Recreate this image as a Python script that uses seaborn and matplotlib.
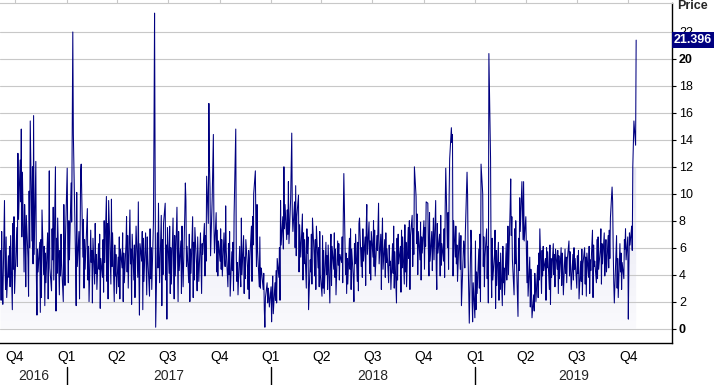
import numpy as np
import pandas as pd
import matplotlib
matplotlib.use("Agg")
import matplotlib.pyplot as plt
import matplotlib.dates as mdates
import matplotlib.transforms as mtransforms
from matplotlib.colors import LinearSegmentedColormap
from matplotlib.patches import PathPatch
import seaborn as sns

sns.set_style("white")
plt.rcParams["font.family"] = ["Liberation Sans", "DejaVu Sans"]

# Daily prices (business days)
v2016 = [
    5.8, 2.1, 7.2, 3.4, 1.8, 9.5, 4.6, 2.9, 6.8, 2.3, 5.4, 3.8, 6.1,
    3.1, 6.9, 1.4, 7.8, 4.4, 8.3, 2.6, 6.2, 7.5, 4.6, 13.0, 8.1, 12.5,
    9.4, 14.8, 6.8, 11.6, 4.2, 9.2, 7.5, 3.1, 8.4, 5.2, 2.4, 10.2, 6.0,
    15.4, 6.5, 12.0, 4.8, 15.8, 5.5, 12.4, 3.8, 1.0, 5.9, 4.2, 6.4, 1.2,
    6.6, 2.3, 8.8, 4.0, 6.1, 1.7, 5.6, 3.4, 7.1, 2.2, 6.2, 11.7, 4.5,
    2.8, 7.4, 5.1, 9.0, 3.6, 12.0, 1.3, 6.7, 4.1, 8.2, 2.5, 5.8, 3.9, 7.0,
    4.8, 2.0, 9.2, 5.4, 3.2, 6.9,
]
v2017 = [
    11.9, 6.2, 3.4, 8.0, 5.1, 10.8, 7.9, 14.8, 22.0, 14.4, 7.5, 4.9, 1.7,
    10.1, 4.6, 7.2, 2.2, 6.4, 11.7, 12.2, 5.3, 8.1, 3.0, 6.6, 4.4, 7.9,
    8.9, 3.6, 6.1, 2.0, 7.3, 4.9, 5.8, 1.9, 6.7, 3.3, 7.8, 4.1, 5.5,
    2.9, 6.3, 4.4, 7.0, 1.5, 5.2, 3.8, 6.6, 2.7, 8.0, 4.9, 9.8, 3.5,
    7.8, 2.2, 9.5, 5.0, 3.3, 9.6, 4.6, 7.1, 2.0, 6.2, 3.9, 5.5, 2.6,
    5.3, 3.1, 6.8, 2.2, 5.9, 4.5, 7.1, 2.0, 5.6, 3.4, 6.3, 8.3, 4.2,
    6.9, 3.0, 8.8, 4.8, 5.9, 1.8, 7.0, 3.6, 6.2, 2.3, 5.4, 7.6, 3.8,
    9.4, 4.2, 1.0, 6.3, 5.0, 7.2, 1.4, 6.7, 3.5, 7.1, 4.6, 2.5, 6.8,
    5.2, 2.4, 7.4, 3.7, 6.0, 2.9, 7.9, 14.8, 23.4, 11.7, 0.1, 7.1, 4.5,
    9.3, 5.8, 3.4, 8.4, 1.7, 6.6, 4.0, 7.8, 9.3, 3.6, 6.2, 0.7, 7.5,
    4.1, 7.6, 2.6, 6.0, 3.3, 8.2, 4.8, 2.2, 6.9, 3.9, 9.0, 5.4, 2.0,
    7.2, 4.3, 6.5, 2.6, 7.6, 5.0, 3.1, 8.5, 10.8, 9.5, 4.6, 6.1, 3.4,
    7.0, 2.0, 5.9, 4.1, 8.3, 2.3, 6.4, 3.6, 7.5, 4.7, 2.8, 6.8, 5.2,
    3.5, 7.1, 4.8, 2.6, 6.3, 5.5, 7.8, 3.9, 6.9, 5.0, 11.3, 7.8, 16.7,
    12.2, 10.5, 5.4, 9.8, 12.0, 14.4, 7.8, 5.6, 8.6, 4.2, 7.3, 3.9, 6.5,
    5.0, 7.4, 4.4, 6.6, 3.9, 7.1, 5.2, 4.6, 9.1, 5.8, 3.1, 6.3, 4.0,
    7.2, 2.4, 5.7, 4.3, 6.4, 2.8, 8.4, 14.8, 5.2, 3.5, 4.9, 2.5, 6.1,
    4.2, 3.1, 8.2, 4.0, 6.9, 2.6, 5.3, 3.7, 6.6, 4.5, 2.9, 5.8, 2.2,
    5.1, 7.6, 3.5, 8.3, 6.2, 10.0, 11.7, 7.4, 4.6, 9.2, 5.8, 3.1, 6.8,
    3.0, 4.5, 4.3, 2.9, 4.1, 1.4, 0.1, 2.3, 3.4, 1.9, 3.0, 2.6, 1.6,
]
v2018 = [
    3.1, 0.5, 2.6, 3.9, 1.1, 3.4, 2.1, 4.3, 1.9, 5.2, 3.8, 6.0, 2.1,
    9.5, 6.2, 8.3, 5.9, 12.0, 7.4, 9.2, 6.6, 8.8, 7.0, 10.9, 6.3, 9.6,
    12.0, 14.5, 8.5, 7.2, 9.4, 6.0, 10.6, 5.4, 8.3, 9.9, 4.2, 7.7, 6.4,
    5.3, 8.5, 3.6, 7.1, 4.8, 6.6, 3.0, 7.4, 5.6, 6.8, 1.4, 5.1, 4.2,
    7.0, 3.3, 8.2, 5.4, 3.9, 6.6, 2.9, 7.6, 4.5, 6.0, 3.1, 7.2, 4.0,
    2.4, 6.9, 3.0, 5.8, 2.6, 6.4, 4.0, 5.4, 2.9, 6.2, 1.9, 5.5, 7.0,
    3.2, 6.1, 4.4, 7.1, 3.8, 5.9, 2.5, 6.5, 4.7, 6.3, 3.6, 5.5, 4.9,
    6.8, 3.4, 8.3, 11.5, 4.0, 5.6, 2.6, 5.2, 3.3, 6.7, 4.4, 7.4, 2.9,
    5.9, 3.7, 2.0, 6.3, 4.8, 7.0, 3.5, 6.4, 2.8, 7.8, 8.2, 4.6, 6.0,
    3.8, 7.4, 5.0, 6.8, 3.2, 7.6, 9.2, 5.5, 7.9, 4.1, 6.5, 3.6, 7.2,
    5.3, 8.0, 4.6, 7.3, 3.9, 6.9, 5.8, 7.7, 9.3, 4.8, 7.0, 2.9, 6.4,
    8.2, 4.4, 6.6, 3.8, 7.1, 4.9, 5.9, 3.4, 6.2, 4.7, 5.0, 2.9, 6.3,
    4.1, 7.6, 3.0, 5.7, 1.9, 6.7, 3.6, 7.0, 4.8, 6.1, 2.7, 7.3, 4.5,
    6.8, 3.3, 7.7, 4.2, 6.4, 3.1, 7.5, 5.2, 8.0, 2.9, 6.9, 8.4, 4.6,
    7.4, 5.5, 12.0, 9.8, 6.3, 8.5, 4.0, 7.2, 5.1, 7.9, 3.6, 6.8, 5.6,
    8.0, 4.4, 7.5, 6.1, 9.4, 9.3, 5.8, 3.9, 8.6, 5.0, 7.2, 4.3, 6.5,
    8.2, 5.1, 9.5, 4.4, 2.9, 7.8, 5.6, 7.0, 3.9, 8.4, 4.7, 6.3, 5.0,
    7.4, 3.8, 9.1, 11.9, 6.0, 8.6, 4.4, 9.8, 12.6, 14.9, 13.8, 14.4, 3.9,
    8.0, 5.3, 7.6, 4.8, 6.2, 3.5, 7.1, 5.7, 4.4, 6.9, 1.7, 5.3, 6.5,
    6.0, 4.5, 7.2, 11.6, 9.9, 5.1, 2.5, 0.4, 7.3, 6.3, 2.1, 0.5, 3.4,
    0.8,
]
v2019 = [
    6.5, 1.4, 4.2, 2.6, 5.9, 3.0, 7.0, 2.0, 12.2, 10.0, 4.6, 6.8, 3.1,
    5.3, 7.4, 3.7, 6.1, 1.9, 20.4, 12.6, 4.8, 2.3, 6.7, 3.6, 5.5, 7.3,
    1.5, 5.8, 3.2, 6.4, 2.1, 4.9, 2.9, 5.6, 1.7, 6.1, 3.4, 4.5, 2.5,
    6.3, 3.6, 5.2, 7.6, 4.0, 9.0, 11.1, 6.9, 8.3, 5.1, 2.5, 7.4, 4.8,
    8.0, 5.4, 0.9, 6.7, 4.3, 9.7, 7.2, 10.9, 8.8, 6.6, 10.9, 6.5, 8.3,
    5.9, 3.4, 6.5, 2.4, 5.3, 1.6, 4.4, 3.0, 0.8, 2.5, 1.3, 4.1, 3.2,
    2.0, 4.7, 2.3, 5.6, 3.6, 7.4, 2.6, 5.8, 3.9, 6.1, 4.3, 5.2, 2.1,
    6.0, 4.5, 5.7, 2.9, 6.2, 1.8, 5.2, 3.8, 6.3, 4.0, 5.5, 3.1, 5.9,
    4.4, 5.8, 2.6, 5.4, 3.7, 6.0, 3.2, 5.6, 4.7, 2.5, 5.9, 4.1, 5.3,
    3.4, 5.1, 6.5, 3.9, 5.7, 4.6, 2.9, 5.5, 3.6, 6.0, 4.4, 5.2, 3.0,
    5.4, 4.1, 5.8, 2.2, 5.0, 3.5, 5.9, 2.5, 4.8, 6.0, 3.3, 5.3, 2.4,
    5.6, 3.8, 6.1, 2.6, 5.1, 4.3, 7.3, 2.3, 6.2, 4.6, 5.0, 3.4, 6.6,
    3.7, 6.8, 4.4, 5.9, 7.4, 3.3, 6.3, 4.8, 7.1, 3.9, 5.4, 6.6, 4.2,
    6.9, 4.5, 7.3, 5.2, 8.2, 10.5, 9.4, 6.0, 3.4, 1.9, 5.8, 6.9, 3.0,
    5.2, 2.3, 6.3, 4.2, 5.6, 2.9, 4.9, 3.7, 6.6, 5.9, 7.4, 5.1, 6.8,
    0.7, 4.6, 7.1, 6.2, 7.6, 5.8, 12.0, 13.8, 15.4, 13.6, 21.396,
]
year_starts = ["2016-09-05", "2017-01-02", "2018-01-01", "2019-01-01"]

frames = []
for start, vals in zip(year_starts, [v2016, v2017, v2018, v2019]):
    frames.append(pd.DataFrame({"date": pd.bdate_range(start, periods=len(vals)),
                                "price": vals}))
df = pd.concat(frames, ignore_index=True)

x_min = pd.Timestamp("2016-09-04")
x_max = pd.Timestamp("2019-12-18")
navy = "#000080"
grid_grey = "#c8c8c8"

fig = plt.figure(figsize=(7.16, 3.85), dpi=100)
ax = fig.add_axes([0, 42 / 385, 672 / 716, 340 / 385])

# pale gradient fill under the line
poly = ax.fill_between(df["date"], 0, df["price"], color="none", lw=0)
clip = PathPatch(poly.get_paths()[0], transform=ax.transData, fc="none", ec="none")
ax.add_patch(clip)
fade = LinearSegmentedColormap.from_list("fade", ["#fafafd", "#e6e6f3"])
grad = np.linspace(0, 1, 256).reshape(-1, 1)
im = ax.imshow(grad, cmap=fade, origin="lower", aspect="auto", zorder=1,
               extent=[mdates.date2num(x_min), mdates.date2num(x_max), 0, 12])
im.set_clip_path(clip)

sns.lineplot(data=df, x="date", y="price", ax=ax, color=navy, linewidth=0.75,
             estimator=None, zorder=3)

ax.set_xlim(x_min, x_max)
ax.set_ylim(-1.07, 24.15)
ax.set_xlabel("")
ax.set_ylabel("")

# grid and frame
ax.set_axisbelow("line")
ax.yaxis.grid(True, color=grid_grey, lw=0.8)
ax.xaxis.grid(False)
ax.spines["left"].set_visible(False)
ax.spines["top"].set_color(grid_grey)
ax.spines["top"].set_linewidth(0.8)
for s in ["right", "bottom"]:
    ax.spines[s].set_color("black")
    ax.spines[s].set_linewidth(1.0)

# y axis on the right
ax.yaxis.tick_right()
ax.set_yticks(range(0, 23, 2))
ax.tick_params(axis="y", length=3, width=0.8, pad=2, labelsize=9, colors="black")
for lab in ax.get_yticklabels():
    if lab.get_text() in ("0", "20"):
        lab.set_fontweight("bold")

# quarter ticks
quarters = pd.date_range("2016-10-01", "2019-10-01", freq="QS")
ax.set_xticks(quarters)
ax.set_xticklabels([f"Q{q.quarter}" for q in quarters])
ax.tick_params(axis="x", length=3, width=0.8, pad=2, labelsize=10, colors="black")

top = ax.secondary_xaxis("top")
top.set_xticks(mdates.date2num(quarters))
top.set_xticklabels([])
top.tick_params(length=3, width=0.8, color=grid_grey)
top.spines["top"].set_visible(False)

# year labels with separators
trans = mtransforms.blended_transform_factory(ax.transData, ax.transAxes)
bounds = [x_min] + [pd.Timestamp(f"{y}-01-01") for y in (2017, 2018, 2019)] + [x_max]
years = ["2016", "2017", "2018", "2019"]
for i, yr in enumerate(years):
    mid = bounds[i] + (bounds[i + 1] - bounds[i]) / 2
    ax.text(mid, -0.096, yr, transform=trans, ha="center", va="center", fontsize=10)
for b in bounds[1:-1]:
    ax.plot([b, b], [-0.07, -0.13], transform=trans, color="black", lw=1.0, clip_on=False)

# last value marker and axis title
vtrans = mtransforms.blended_transform_factory(ax.transAxes, ax.transData)
ax.text(1 + 2 / 672, v2019[-1], f"{v2019[-1]:.3f}", transform=vtrans, color="white",
        fontweight="bold", fontsize=9, ha="left", va="center", clip_on=False, zorder=10,
        bbox=dict(boxstyle="square,pad=0.15", fc=navy, ec="none"))
fig.text(692 / 716, 1 - 6 / 385, "Price", ha="center", va="center",
         fontweight="bold", fontsize=9)

fig.savefig("out.png", dpi=100)
